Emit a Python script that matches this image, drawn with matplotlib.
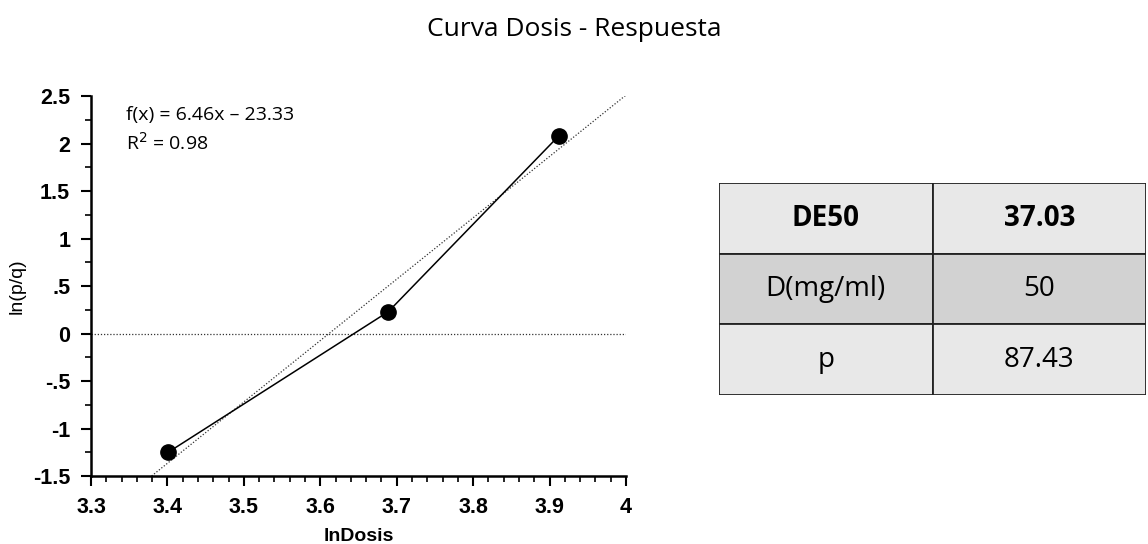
import matplotlib.pyplot as plt
import numpy as np

# data
ln_dose = [3.401, 3.689, 3.912]
ln_pq = [-1.25, 0.23, 2.08]
slope = 6.46
intercept = -23.33

yticks = [2.5, 2, 1.5, 1, 0.5, 0, -0.5, -1, -1.5]
ytick_labels = ["2.5", "2", "1.5", "1", ".5", "0", "-.5", "-1", "-1.5"]
xticks = [3.3, 3.4, 3.5, 3.6, 3.7, 3.8, 3.9, 4.0]
xtick_labels = ["3.3", "3.4", "3.5", "3.6", "3.7", "3.8", "3.9", "4"]

table_rows = [["DE50", "37.03"], ["D(mg/ml)", "50"], ["p", "87.43"]]
row_bold = [True, False, False]
row_colors = ["#e8e8e8", "#d2d2d2", "#e8e8e8"]

fig = plt.figure(figsize=(11.48, 5.44), dpi=100)
fig.text(0.5, 0.945, "Curva Dosis - Respuesta", ha="center", va="center",
         fontsize=19, family="Open Sans")

ax = fig.add_axes([0.0793, 0.125, 0.466, 0.6985])
ax.set_xlim(3.3, 4.0)
ax.set_ylim(-1.5, 2.5)

# reference line at zero and regression line
ax.plot([3.3, 4.0], [0, 0], color="#333333", lw=0.9, ls=(0, (1, 1.5)))
xr = np.array([(-1.5 - intercept) / slope, 4.0])
ax.plot(xr, slope * xr + intercept, color="#333333", lw=0.9, ls=(0, (1, 1.5)))

ax.plot(ln_dose, ln_pq, color="black", lw=1.1, marker="o", markersize=11,
        clip_on=False)

ax.text(0.066, 0.95, "f(x) = 6.46x \u2013 23.33", transform=ax.transAxes,
        fontsize=14, family="Open Sans", va="center")
ax.text(0.066, 0.877, "R$^2$ = 0.98", transform=ax.transAxes,
        fontsize=14, family="Open Sans", va="center")

for s in ["top", "right"]:
    ax.spines[s].set_visible(False)
for s in ["left", "bottom"]:
    ax.spines[s].set_linewidth(1.8)

ax.set_yticks(yticks)
ax.set_yticklabels(ytick_labels)
ax.set_xticks(xticks)
ax.set_xticklabels(xtick_labels)
ax.set_yticks(np.arange(-1.5, 2.51, 0.25), minor=True)
ax.set_xticks(np.arange(3.3, 4.001, 0.02), minor=True)
ax.tick_params(which="major", length=7, width=1.5, direction="out", pad=8)
ax.tick_params(which="minor", length=4, width=1.2, direction="out")
for lab in ax.get_xticklabels() + ax.get_yticklabels():
    lab.set_fontweight("bold")
    lab.set_fontsize(15.5)
    lab.set_family("Liberation Sans")

ax.set_xlabel("lnDosis", fontsize=14, fontweight="bold",
              family=["Liberation Sans Narrow", "Liberation Sans"], labelpad=7)
ax.set_ylabel("ln(p/q)", fontsize=14, family=["Liberation Sans Narrow", "Liberation Sans"],
              labelpad=5)

# table
tax = fig.add_axes([0.6263, 0.2739, 0.372, 0.3897])
tax.set_xlim(0, 2)
tax.set_ylim(0, 3)
tax.axis("off")
for i, row in enumerate(table_rows):
    y0 = 2 - i
    for j, val in enumerate(row):
        tax.add_patch(plt.Rectangle((j, y0), 1, 1, facecolor=row_colors[i],
                                    edgecolor="#222222", lw=1.3))
        tax.text(j + 0.5, y0 + 0.5, val, ha="center", va="center", fontsize=20,
                 family="Open Sans", fontweight="bold" if row_bold[i] else "normal")

fig.savefig("out.png", dpi=100)
